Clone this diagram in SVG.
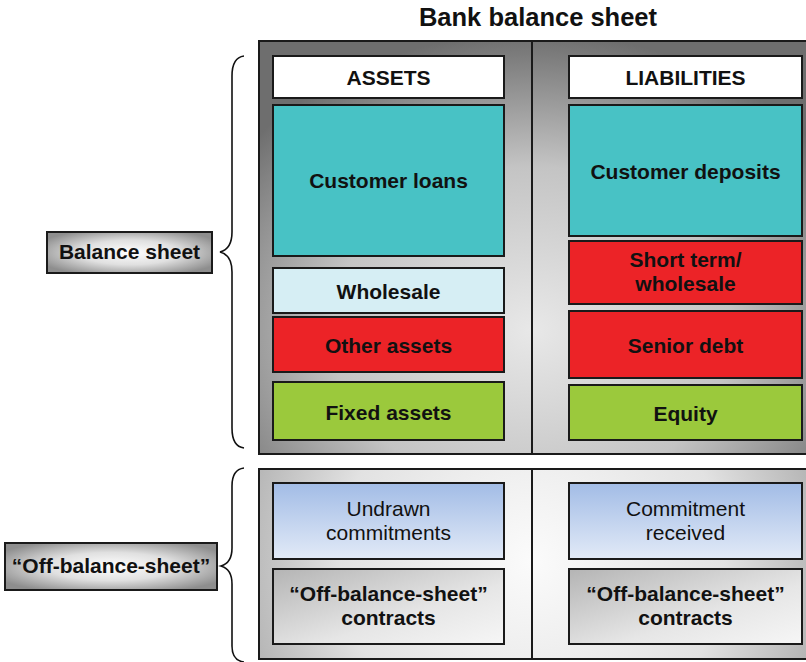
<svg xmlns="http://www.w3.org/2000/svg" width="806" height="662" viewBox="0 0 806 662">
<defs>
<radialGradient id="gTop" cx="532" cy="330" r="330" gradientUnits="userSpaceOnUse" gradientTransform="translate(532 330) scale(1.1 0.9) translate(-532 -330)">
<stop offset="0" stop-color="#e8e8e8"/><stop offset="0.55" stop-color="#c4c4c4"/><stop offset="1" stop-color="#6e6e6e"/>
</radialGradient>
<radialGradient id="gBot" cx="532" cy="560" r="320" gradientUnits="userSpaceOnUse">
<stop offset="0" stop-color="#fbfbfb"/><stop offset="0.6" stop-color="#e2e2e2"/><stop offset="1" stop-color="#a8a8a8"/>
</radialGradient>
<radialGradient id="gLbl" cx="0.5" cy="0.5" r="0.6">
<stop offset="0" stop-color="#ffffff"/><stop offset="0.5" stop-color="#e0e0e0"/><stop offset="1" stop-color="#8e8e8e"/>
</radialGradient>
<linearGradient id="gBlue" x1="0" y1="0" x2="0" y2="1">
<stop offset="0" stop-color="#a2bce6"/><stop offset="1" stop-color="#e2eaf7"/>
</linearGradient>
<linearGradient id="gGray" x1="0" y1="0" x2="1" y2="1">
<stop offset="0" stop-color="#b4b4b4"/><stop offset="0.6" stop-color="#e6e6e6"/><stop offset="1" stop-color="#f6f6f6"/>
</linearGradient>
<style>
.box{stroke:#1a1a1a;stroke-width:2}
.panel{stroke:#1a1a1a;stroke-width:2}
.t{font-family:"Liberation Sans",Arial,sans-serif;font-size:21px;font-weight:bold;fill:#111;text-anchor:middle}
.n{font-family:"Liberation Sans",Arial,sans-serif;font-size:21px;fill:#111;text-anchor:middle}
.brace{fill:none;stroke:#111;stroke-width:1.6}
</style>
</defs>
<text class="t" x="538" y="26" style="font-size:25.5px">Bank balance sheet</text>
<g id="panel-top">
<rect class="panel" x="259" y="41" width="550" height="413" fill="url(#gTop)"/>
<line x1="532" y1="41" x2="532" y2="454" stroke="#1a1a1a" stroke-width="2"/>
</g>
<g id="panel-bottom">
<rect class="panel" x="259" y="469" width="550" height="190" fill="url(#gBot)"/>
<line x1="532" y1="469" x2="532" y2="659" stroke="#1a1a1a" stroke-width="2"/>
</g>
<g id="assets"><rect class="box" x="273" y="56" width="231" height="42" fill="#fff"/><text class="t" x="388.5" y="85">ASSETS</text></g>
<g id="liabilities"><rect class="box" x="569" y="56" width="233" height="42" fill="#fff"/><text class="t" x="685.5" y="85">LIABILITIES</text></g>
<g id="customer-loans"><rect class="box" x="273" y="105" width="231" height="151" fill="#48c2c5"/><text class="t" x="388.5" y="188">Customer loans</text></g>
<g id="wholesale"><rect class="box" x="273" y="268" width="231" height="45" fill="#d6eef4"/><text class="t" x="388.5" y="299">Wholesale</text></g>
<g id="other-assets"><rect class="box" x="273" y="317" width="231" height="55" fill="#ec2327"/><text class="t" x="388.5" y="353">Other assets</text></g>
<g id="fixed-assets"><rect class="box" x="273" y="382" width="231" height="58" fill="#9bc93c"/><text class="t" x="388.5" y="420">Fixed assets</text></g>
<g id="customer-deposits"><rect class="box" x="569" y="105" width="233" height="131" fill="#48c2c5"/><text class="t" x="685.5" y="179">Customer deposits</text></g>
<g id="short-term"><rect class="box" x="569" y="241" width="233" height="63" fill="#ec2327"/><text class="t" x="685.5" y="267">Short term/</text><text class="t" x="685.5" y="291">wholesale</text></g>
<g id="senior-debt"><rect class="box" x="569" y="311" width="233" height="67" fill="#ec2327"/><text class="t" x="685.5" y="353">Senior debt</text></g>
<g id="equity"><rect class="box" x="569" y="385" width="233" height="55" fill="#9bc93c"/><text class="t" x="685.5" y="421">Equity</text></g>
<g id="undrawn"><rect class="box" x="273" y="483" width="231" height="76" fill="url(#gBlue)"/><text class="n" x="388.5" y="516">Undrawn</text><text class="n" x="388.5" y="540">commitments</text></g>
<g id="obs-left"><rect class="box" x="273" y="569" width="231" height="75" fill="url(#gGray)"/><text class="t" x="388.5" y="601">“Off-balance-sheet”</text><text class="t" x="388.5" y="625">contracts</text></g>
<g id="commitment-received"><rect class="box" x="569" y="483" width="233" height="76" fill="url(#gBlue)"/><text class="n" x="685.5" y="516">Commitment</text><text class="n" x="685.5" y="540">received</text></g>
<g id="obs-right"><rect class="box" x="569" y="569" width="233" height="75" fill="url(#gGray)"/><text class="t" x="685.5" y="601">“Off-balance-sheet”</text><text class="t" x="685.5" y="625">contracts</text></g>
<g id="label-balance"><rect class="box" x="47" y="232" width="165" height="41" fill="url(#gLbl)"/><text class="t" x="129.5" y="259">Balance sheet</text></g>
<g id="label-obs"><rect class="box" x="5" y="543" width="212" height="47" fill="url(#gLbl)"/><text class="t" x="111" y="573">“Off-balance-sheet”</text></g>
<g id="connectors">
<path class="brace" d="M244 56 C236 57 232 64 232 76 L232 232 C232 244 228 250 220 252 C228 254 232 260 232 272 L232 428 C232 440 236 447 244 448"/>
<path class="brace" d="M244 468 C236 469 232 476 232 486 L232 548 C232 559 228 564 221 566 C228 568 232 573 232 584 L232 646 C232 656 236 661 244 662"/>
</g>
</svg>
